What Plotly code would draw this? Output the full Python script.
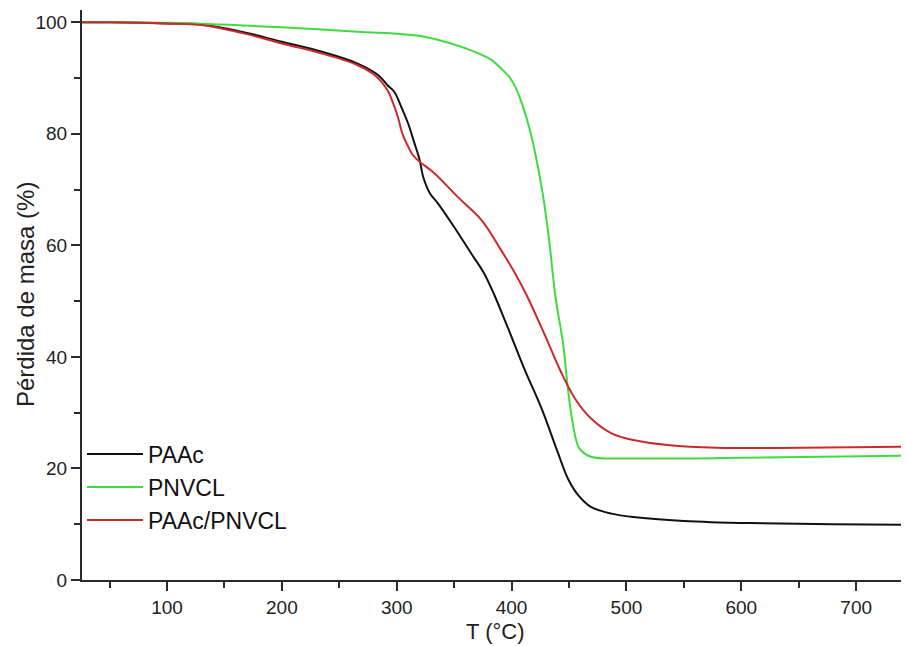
import plotly.graph_objects as go

# PAAc (black)
paac_T = [26, 50, 100, 130, 165, 200, 235, 266, 284, 292, 298, 304, 310, 315, 320, 323, 329, 336, 350, 365, 376, 385, 397, 411, 426, 440, 449, 458, 469, 487, 506, 550, 608, 680, 746]
paac_M = [100, 100, 99.8, 99.6, 98.3, 96.5, 94.7, 92.6, 90.5, 88.7, 87.5, 84.8, 81.8, 78.6, 75.3, 72.3, 69.3, 67.5, 63.3, 58.5, 55.0, 51.1, 45.1, 37.9, 30.8, 23.0, 18.2, 15.2, 13.1, 11.9, 11.3, 10.6, 10.2, 10.0, 9.9]

# PNVCL (green)
pnvcl_T = [26, 100, 200, 266, 324, 368, 382, 391, 398, 404, 408, 411, 416, 420, 427, 433, 438, 445, 449, 453, 459, 469, 506, 600, 746]
pnvcl_M = [100, 99.9, 99.1, 98.3, 97.4, 94.7, 93.3, 91.7, 90.2, 88.1, 86.0, 84.2, 80.6, 77.1, 69.4, 60.4, 51.1, 42.1, 34.4, 28.4, 23.6, 22.1, 21.8, 21.9, 22.3]

# PAAc/PNVCL (red)
mix_T = [26, 50, 100, 130, 165, 200, 235, 266, 281, 292, 297, 301, 305, 310, 314, 320, 333, 353, 374, 391, 403, 413, 429, 443, 455, 469, 487, 506, 536, 579, 652, 746]
mix_M = [100, 100, 99.8, 99.5, 98.1, 96.2, 94.4, 92.3, 90.5, 87.8, 85.4, 83.0, 80.0, 77.7, 76.2, 75.0, 72.9, 68.7, 64.5, 59.1, 55.0, 51.1, 43.9, 37.3, 32.6, 29.0, 26.3, 25.1, 24.2, 23.7, 23.7, 23.9]

x_ticks = [100, 200, 300, 400, 500, 600, 700]
y_ticks = [0, 20, 40, 60, 80, 100]

FONT = "Arial, Liberation Sans, sans-serif"
AXC = "#2a2a2a"

fig = go.Figure()
fig.add_trace(go.Scatter(x=paac_T, y=paac_M, mode="lines", name="PAAc",
                         line=dict(color="#111111", width=2, shape="spline", smoothing=1.0)))
fig.add_trace(go.Scatter(x=pnvcl_T, y=pnvcl_M, mode="lines", name="PNVCL",
                         line=dict(color="#3fdc3f", width=2, shape="spline", smoothing=1.0)))
fig.add_trace(go.Scatter(x=mix_T, y=mix_M, mode="lines", name="PAAc/PNVCL",
                         line=dict(color="#cc2a2a", width=2, shape="spline", smoothing=1.0)))

# page body has an 8px default margin: figure sized to fit the 909x646 window
fig.update_layout(
    width=901, height=638,
    margin=dict(l=74, r=0, t=2, b=66),
    paper_bgcolor="white", plot_bgcolor="white",
    font=dict(family=FONT, color="#222222", size=19),
    showlegend=True,
    legend=dict(x=0.0, y=0.2585, xanchor="left", yanchor="top",
                bgcolor="rgba(0,0,0,0)", font=dict(size=23, color="#111111"),
                tracegroupgap=0, itemwidth=56),
    annotations=[
        dict(text="T (°C)", xref="paper", yref="paper", x=0.5, y=-0.0895,
             xanchor="center", yanchor="middle", showarrow=False,
             borderpad=0, font=dict(size=22, color="#222222")),
        dict(text="Pérdida de masa (%)", xref="paper", yref="paper", x=-0.0689, y=0.5,
             xanchor="center", yanchor="middle", showarrow=False, textangle=-90,
             borderpad=0, font=dict(size=24, color="#222222")),
    ],
)
fig.update_xaxes(
    range=[26, 746], tickvals=x_ticks, showgrid=False, zeroline=False,
    showline=True, linecolor=AXC, linewidth=2,
    ticks="outside", ticklen=9, tickwidth=2, tickcolor=AXC,
    minor=dict(dtick=50, tick0=50, ticks="outside", ticklen=6, tickwidth=2, tickcolor=AXC),
    tickfont=dict(size=19),
)
fig.update_yaxes(
    range=[0, 102.2], tickvals=y_ticks, showgrid=False, zeroline=False,
    showline=True, linecolor=AXC, linewidth=2,
    ticks="outside", ticklen=9, tickwidth=2, tickcolor=AXC,
    minor=dict(dtick=10, tick0=10, ticks="outside", ticklen=6, tickwidth=2, tickcolor=AXC),
    tickfont=dict(size=19),
)

fig.write_html("out.html")
